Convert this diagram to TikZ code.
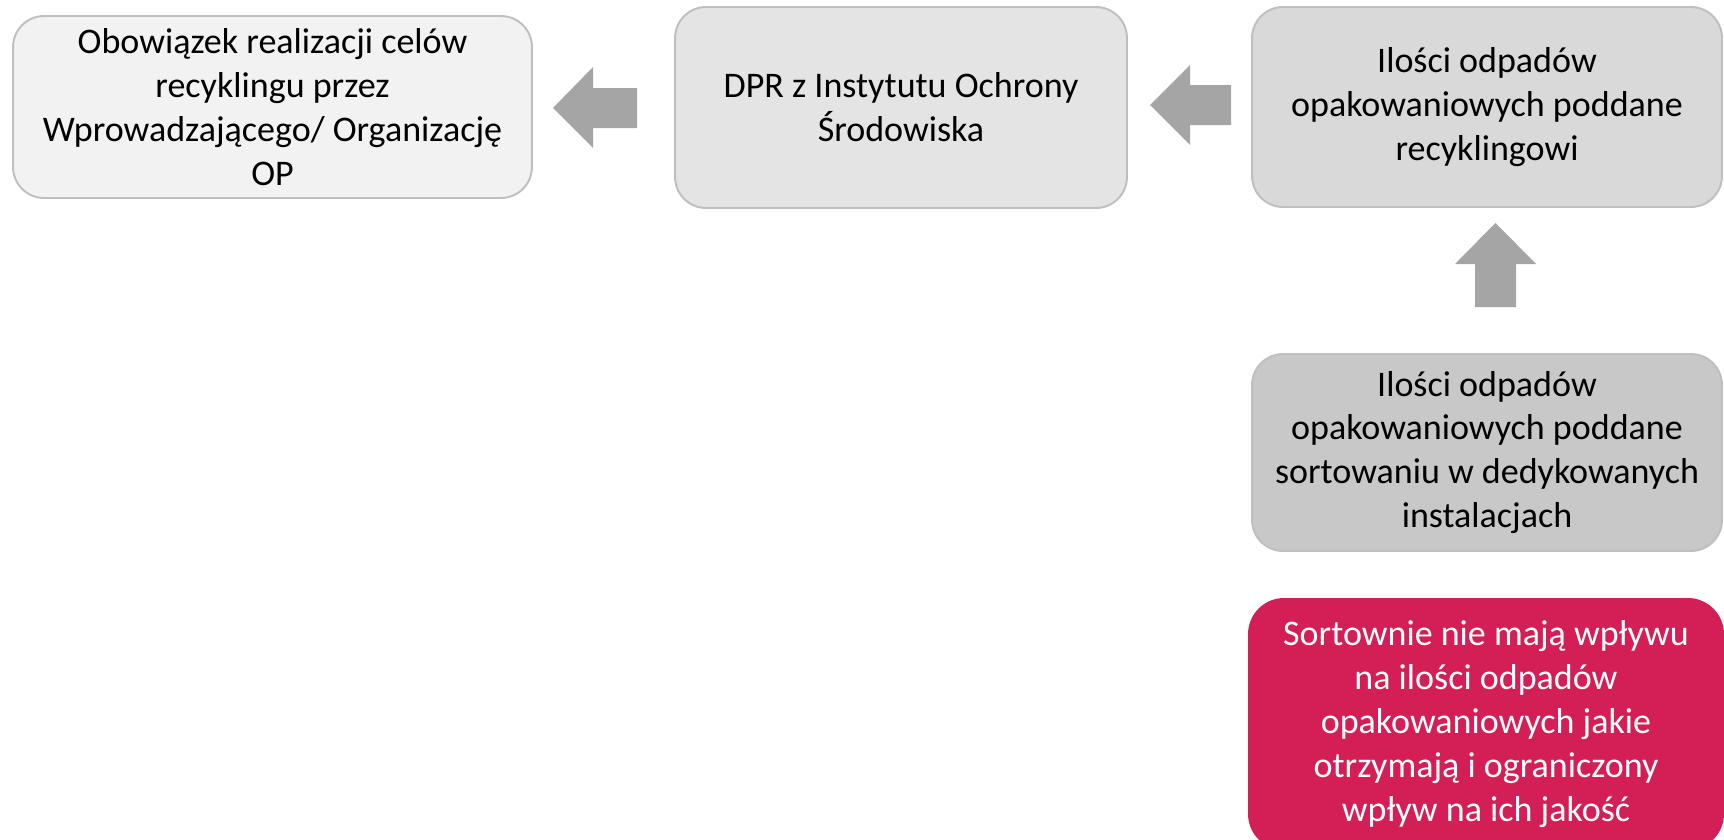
\documentclass[tikz,border=0pt]{standalone}
\usepackage{fontspec}
\setmainfont{Carlito}
\usepackage{tikz}

\definecolor{edgegray}{HTML}{BFBFBF}
\definecolor{arrowgray}{HTML}{A5A5A5}
\definecolor{fillone}{HTML}{F2F2F2}
\definecolor{filltwo}{HTML}{E4E4E4}
\definecolor{fillthree}{HTML}{D9D9D9}
\definecolor{fillfour}{HTML}{C8C8C8}
\definecolor{sortred}{HTML}{D31F55}

\tikzset{
  box/.style={draw=edgegray, line width=1.1pt, rounded corners=0.62cm,
    align=center, inner sep=0pt, text=black,
    font=\fontsize{20.5}{25}\selectfont},
  redbox/.style={box, draw=none, fill=sortred, text=white, rounded corners=0.72cm}
}

\begin{document}
\begin{tikzpicture}[x=0.02cm, y=-0.02cm]
              \useasboundingbox (0,0) rectangle (1724,839);
              \clip (0,0) rectangle (1724,839);
              % top row
              \node [box, fill=fillone, minimum width=10.38cm, minimum height=3.64cm]
                (obowiazek) at (272.5,107) {Obowiązek realizacji celów\\recyklingu przez\\Wprowadzającego/ Organizację\\OP};
              \node [box, fill=filltwo, minimum width=9.04cm, minimum height=4.02cm]
                (dpr) at (901,107.5) {DPR z Instytutu Ochrony\\Środowiska};
              \node [box, fill=fillthree, minimum width=9.4cm, minimum height=4cm]
                (recykling) at (1487,107) {Ilości odpadów\\opakowaniowych poddane\\recyklingowi};
              % right column
              \node [box, fill=fillfour, minimum width=9.4cm, minimum height=3.94cm]
                (sortowanie) at (1487,452.5) {Ilości odpadów\\opakowaniowych poddane\\sortowaniu w dedykowanych\\instalacjach};
              \node [redbox, minimum width=9.52cm, minimum height=5.04cm]
                (sortownie) at (1486,724) {Sortownie nie mają wpływu\\na ilości odpadów\\opakowaniowych jakie\\otrzymają i ograniczony\\wpływ na ich jakość};
              % block arrows
              \fill [arrowgray] (553,108) -- (593,67) -- (593,88) -- (637,88) -- (637,128) -- (593,128) -- (593,148) -- cycle;
              \fill [arrowgray] (1150,105) -- (1190,65) -- (1190,85) -- (1231,85) -- (1231,125) -- (1190,125) -- (1190,145) -- cycle;
              \fill [arrowgray] (1495.5,223) -- (1536,264) -- (1516,264) -- (1516,307) -- (1475,307) -- (1475,264) -- (1455,264) -- cycle;
            \end{tikzpicture}
\end{document}
